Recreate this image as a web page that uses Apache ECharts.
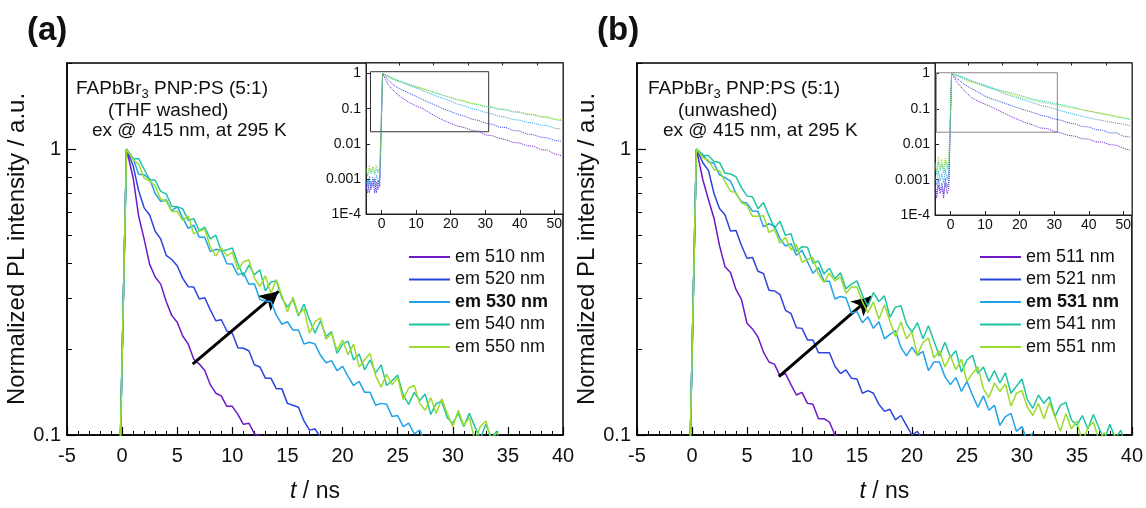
<!DOCTYPE html>
<html>
<head>
<meta charset="utf-8">
<script src="https://cdn.jsdelivr.net/npm/echarts@6/dist/echarts.min.js"></script>
<style>
  html, body { margin: 0; padding: 0; background: #fff; }
  #chart { width: 1146px; height: 508px; }
</style>
</head>
<body>
<div id="chart"></div>
<script>
// time grid of the main plots (ns)
var tMain = [-0.2, 0.4, 1, 1.5, 2, 2.5, 3, 3.5, 4, 4.5, 5, 5.5, 6, 6.5, 7, 7.5, 8, 8.5, 9, 9.5,
  10, 10.5, 11, 11.5, 12, 12.5, 13, 13.5, 14, 14.5, 15, 15.5, 16, 16.5, 17, 17.5, 18, 18.5, 19, 19.5,
  20, 20.5, 21, 21.5, 22, 22.5, 23, 23.5, 24, 24.5, 25, 25.5, 26, 26.5, 27, 27.5, 28, 28.5, 29, 29.5,
  30, 30.5, 31, 31.5, 32, 32.5, 33, 33.5, 34, 34.5, 35, 35.5, 36, 36.5, 37, 37.5, 38, 38.5, 39, 39.5, 40];

// time grid of the insets (ns)
var tInset = [-4.5, -4, -3.5, -3, -2.5, -2, -1.5, -1, -0.5, 0.3, 2, 4, 6, 8, 10, 12, 14, 16, 18, 20,
  22, 24, 26, 28, 30, 32, 34, 36, 38, 40, 42, 44, 46, 48, 50, 52];

// (a) THF washed, main plot
var a510 = [0.08, 1.0, 0.794, 0.583, 0.484, 0.395, 0.357, 0.337, 0.293, 0.262, 0.248, 0.222, 0.208, 0.184, 0.177, 0.168, 0.15, 0.14, 0.137, 0.126,
  0.126, 0.118, 0.109, 0.11, 0.101, 0.099, 0.091];
var a520 = [0.08, 1.0, 0.875, 0.715, 0.623, 0.588, 0.516, 0.485, 0.425, 0.411, 0.391, 0.353, 0.33, 0.329, 0.299, 0.302, 0.274, 0.251, 0.253, 0.231,
  0.227, 0.202, 0.201, 0.197, 0.176, 0.173, 0.158, 0.158, 0.145, 0.145, 0.129, 0.127, 0.125, 0.112, 0.104, 0.105, 0.098, 0.098];
var a530 = [0.08, 1.0, 0.929, 0.816, 0.813, 0.785, 0.699, 0.656, 0.664, 0.608, 0.629, 0.575, 0.528, 0.542, 0.492, 0.492, 0.438, 0.446, 0.442, 0.397,
  0.396, 0.363, 0.369, 0.337, 0.338, 0.298, 0.294, 0.293, 0.262, 0.244, 0.249, 0.233, 0.233, 0.208, 0.211, 0.208, 0.19, 0.179, 0.182, 0.168,
  0.174, 0.16, 0.149, 0.154, 0.141, 0.141, 0.127, 0.129, 0.128, 0.116, 0.117, 0.107, 0.11, 0.101, 0.104, 0.094];
var a540 = [0.08, 1.0, 0.923, 0.927, 0.85, 0.781, 0.778, 0.711, 0.697, 0.631, 0.629, 0.618, 0.563, 0.571, 0.518, 0.533, 0.485, 0.5, 0.44, 0.444,
  0.451, 0.398, 0.359, 0.393, 0.364, 0.378, 0.319, 0.343, 0.346, 0.301, 0.28, 0.298, 0.261, 0.287, 0.253, 0.227, 0.251, 0.221, 0.23, 0.193,
  0.208, 0.213, 0.183, 0.192, 0.169, 0.183, 0.165, 0.176, 0.149, 0.155, 0.162, 0.138, 0.128, 0.141, 0.132, 0.139, 0.118, 0.129, 0.131, 0.115,
  0.11, 0.119, 0.107, 0.119, 0.107, 0.097, 0.109, 0.098, 0.103, 0.088];
var a550 = [0.08, 1.0, 0.919, 0.886, 0.79, 0.775, 0.742, 0.668, 0.658, 0.605, 0.606, 0.563, 0.583, 0.505, 0.516, 0.525, 0.455, 0.423, 0.451, 0.423,
  0.435, 0.379, 0.403, 0.41, 0.354, 0.331, 0.36, 0.313, 0.35, 0.306, 0.27, 0.303, 0.264, 0.276, 0.227, 0.249, 0.257, 0.216, 0.227, 0.198,
  0.215, 0.191, 0.208, 0.173, 0.183, 0.193, 0.161, 0.147, 0.163, 0.15, 0.159, 0.133, 0.146, 0.149, 0.129, 0.122, 0.135, 0.119, 0.134, 0.119,
  0.107, 0.122, 0.108, 0.115, 0.096, 0.107, 0.112, 0.096, 0.102];

// (b) unwashed, main plot
var b511 = [0.08, 1.0, 0.778, 0.665, 0.573, 0.46, 0.388, 0.37, 0.323, 0.298, 0.246, 0.235, 0.22, 0.195, 0.18, 0.177, 0.161, 0.164, 0.15, 0.138,
  0.141, 0.129, 0.128, 0.114, 0.114, 0.111, 0.1, 0.098];
var b521 = [0.08, 1.0, 0.894, 0.842, 0.699, 0.62, 0.589, 0.517, 0.519, 0.46, 0.415, 0.418, 0.374, 0.367, 0.321, 0.319, 0.31, 0.273, 0.266, 0.237,
  0.236, 0.215, 0.215, 0.194, 0.194, 0.194, 0.174, 0.164, 0.169, 0.158, 0.157, 0.14, 0.143, 0.14, 0.128, 0.121, 0.123, 0.113, 0.117, 0.108,
  0.1, 0.103, 0.095];
var b531 = [0.08, 1.0, 0.954, 0.901, 0.892, 0.813, 0.794, 0.773, 0.699, 0.655, 0.646, 0.607, 0.606, 0.535, 0.548, 0.538, 0.486, 0.458, 0.467, 0.425,
  0.443, 0.403, 0.368, 0.385, 0.345, 0.345, 0.299, 0.305, 0.302, 0.267, 0.27, 0.247, 0.259, 0.236, 0.249, 0.217, 0.225, 0.232, 0.202, 0.189,
  0.203, 0.19, 0.196, 0.168, 0.18, 0.18, 0.16, 0.15, 0.159, 0.142, 0.154, 0.138, 0.125, 0.137, 0.122, 0.127, 0.108, 0.116, 0.119, 0.103,
  0.107, 0.095, 0.102];
var b541 = [0.08, 1.0, 0.951, 0.949, 0.905, 0.898, 0.824, 0.818, 0.8, 0.733, 0.686, 0.68, 0.619, 0.65, 0.585, 0.529, 0.559, 0.499, 0.506, 0.439,
  0.455, 0.454, 0.399, 0.406, 0.366, 0.383, 0.352, 0.369, 0.325, 0.337, 0.346, 0.308, 0.282, 0.315, 0.293, 0.307, 0.258, 0.28, 0.283, 0.245,
  0.229, 0.247, 0.217, 0.241, 0.213, 0.189, 0.211, 0.187, 0.197, 0.166, 0.183, 0.19, 0.164, 0.173, 0.154, 0.168, 0.152, 0.165, 0.14, 0.148,
  0.157, 0.133, 0.124, 0.138, 0.129, 0.136, 0.116, 0.127, 0.13, 0.113, 0.108, 0.117, 0.105, 0.118, 0.106, 0.096, 0.109, 0.097, 0.104, 0.088];
var b551 = [0.08, 1.0, 0.931, 0.914, 0.847, 0.839, 0.77, 0.712, 0.704, 0.649, 0.635, 0.582, 0.582, 0.585, 0.511, 0.523, 0.469, 0.491, 0.444, 0.464,
  0.402, 0.411, 0.418, 0.365, 0.342, 0.368, 0.346, 0.357, 0.313, 0.329, 0.329, 0.292, 0.268, 0.292, 0.254, 0.285, 0.25, 0.221, 0.249, 0.217,
  0.229, 0.19, 0.211, 0.218, 0.186, 0.197, 0.173, 0.189, 0.169, 0.184, 0.154, 0.164, 0.173, 0.145, 0.135, 0.152, 0.142, 0.151, 0.126, 0.14,
  0.143, 0.125, 0.117, 0.129, 0.114, 0.13, 0.116, 0.103, 0.119, 0.105, 0.112, 0.094, 0.106, 0.111, 0.096, 0.102, 0.091, 0.101];

// insets, full decay on log scale
var insA510 = [0.0007, 0.0004, 0.0009, 0.0005, 0.0011, 0.0004, 0.0008, 0.0005, 0.001, 1.0, 0.47, 0.29, 0.2, 0.15, 0.12, 0.1, 0.075, 0.058,
  0.046, 0.038, 0.032, 0.029, 0.024, 0.023, 0.018, 0.017, 0.0145, 0.013, 0.011, 0.0105, 0.0088, 0.0085, 0.0068, 0.0066, 0.0052, 0.0046];
var insA520 = [0.0005, 0.0009, 0.0004, 0.0008, 0.0006, 0.001, 0.0004, 0.0009, 0.0006, 1.0, 0.65, 0.43, 0.34, 0.275, 0.222, 0.18, 0.147, 0.12,
  0.098, 0.083, 0.069, 0.061, 0.051, 0.046, 0.039, 0.036, 0.03, 0.029, 0.024, 0.023, 0.019, 0.018, 0.0155, 0.0148, 0.0125, 0.0118];
var insA530 = [0.0009, 0.0006, 0.0012, 0.0007, 0.001, 0.0006, 0.0013, 0.0008, 0.0011, 1.0, 0.8, 0.648, 0.55, 0.46, 0.39, 0.325, 0.268, 0.226,
  0.193, 0.166, 0.135, 0.12, 0.101, 0.091, 0.078, 0.071, 0.061, 0.057, 0.049, 0.047, 0.041, 0.039, 0.034, 0.033, 0.028, 0.026];
var insA540 = [0.0016, 0.0012, 0.002, 0.0014, 0.0022, 0.0013, 0.0019, 0.0015, 0.0021, 1.0, 0.85, 0.685, 0.58, 0.495, 0.425, 0.37, 0.322, 0.273,
  0.237, 0.205, 0.178, 0.16, 0.139, 0.13, 0.114, 0.108, 0.096, 0.092, 0.081, 0.078, 0.069, 0.066, 0.058, 0.056, 0.049, 0.046];
var insA550 = [0.0019, 0.0014, 0.0024, 0.0016, 0.0021, 0.0015, 0.0025, 0.0017, 0.002, 1.0, 0.82, 0.65, 0.55, 0.472, 0.415, 0.366, 0.318, 0.275,
  0.24, 0.21, 0.182, 0.165, 0.142, 0.134, 0.117, 0.112, 0.099, 0.096, 0.084, 0.082, 0.071, 0.069, 0.061, 0.059, 0.051, 0.049];

var insB511 = [0.0005, 0.0003, 0.0007, 0.0004, 0.0006, 0.0003, 0.0008, 0.0004, 0.0006, 1.0, 0.55, 0.325, 0.213, 0.164, 0.137, 0.113, 0.09, 0.072,
  0.058, 0.048, 0.04, 0.035, 0.029, 0.028, 0.023, 0.021, 0.018, 0.017, 0.0145, 0.014, 0.0118, 0.0115, 0.0098, 0.0094, 0.0078, 0.0068];
var insB521 = [0.0007, 0.0004, 0.001, 0.0005, 0.0008, 0.0004, 0.0011, 0.0006, 0.0009, 1.0, 0.71, 0.495, 0.38, 0.298, 0.23, 0.192, 0.166, 0.141,
  0.12, 0.104, 0.09, 0.079, 0.067, 0.061, 0.052, 0.048, 0.041, 0.038, 0.032, 0.031, 0.026, 0.025, 0.021, 0.021, 0.017, 0.016];
var insB531 = [0.0012, 0.0007, 0.0018, 0.0009, 0.0015, 0.0008, 0.002, 0.001, 0.0016, 1.0, 0.88, 0.715, 0.605, 0.535, 0.468, 0.4, 0.32, 0.262,
  0.226, 0.197, 0.171, 0.148, 0.127, 0.114, 0.103, 0.088, 0.079, 0.07, 0.062, 0.056, 0.051, 0.047, 0.043, 0.04, 0.037, 0.034];
var insB541 = [0.0025, 0.0014, 0.0032, 0.0018, 0.0028, 0.0015, 0.0035, 0.002, 0.003, 1.0, 0.91, 0.78, 0.64, 0.535, 0.45, 0.383, 0.34, 0.312,
  0.28, 0.245, 0.213, 0.188, 0.172, 0.157, 0.143, 0.131, 0.12, 0.11, 0.095, 0.087, 0.079, 0.072, 0.066, 0.06, 0.055, 0.05];
var insB551 = [0.003, 0.0018, 0.0045, 0.0022, 0.0038, 0.002, 0.0042, 0.0025, 0.0035, 1.0, 0.86, 0.69, 0.575, 0.493, 0.422, 0.368, 0.333, 0.288,
  0.25, 0.218, 0.196, 0.175, 0.157, 0.144, 0.132, 0.12, 0.111, 0.103, 0.096, 0.088, 0.081, 0.074, 0.068, 0.062, 0.057, 0.053];

// legend names + colours
var namesA = ['em 510 nm', 'em 520 nm', 'em 530 nm', 'em 540 nm', 'em 550 nm'];
var namesB = ['em 511 nm', 'em 521 nm', 'em 531 nm', 'em 541 nm', 'em 551 nm'];
var colors = ['#6e18c8', '#2b45dc', '#20a3e8', '#1fc4a2', '#9bdc2c'];

// tick positions
var insetXTicks = [0, 10, 20, 30, 40, 50];
var insetXMinor = [5, 15, 25, 35, 45];
var mainYMinor = [0.2, 0.3, 0.4, 0.5, 0.6, 0.7, 0.8, 0.9, 2];

var FONT = '"Liberation Sans", Arial, sans-serif';

function pairs(ts, vs) {
    return vs.map(function (v, i) { return [ts[i], v]; });
}

var chart = echarts.init(document.getElementById('chart'), null, { renderer: 'canvas' });

// main axes of one panel
function mainX(grid) {
    return {
        type: 'value', gridIndex: grid, min: -5, max: 40, interval: 5,
        axisLine: { onZero: false, lineStyle: { color: '#000', width: 1.5 } },
        axisTick: { inside: true, length: 8, lineStyle: { color: '#000', width: 1.2 } },
        minorTick: { show: true, splitNumber: 5, length: 4, lineStyle: { color: '#000', width: 1 } },
        axisLabel: { fontSize: 20, color: '#111', fontFamily: FONT, margin: 11 },
        splitLine: { show: false },
        name: '{i|t} / ns', nameLocation: 'middle', nameGap: 45,
        nameTextStyle: { fontSize: 23, color: '#111', fontFamily: FONT, rich: { i: { fontStyle: 'italic', fontSize: 23, fontFamily: FONT } } }
    };
}
function mainY(grid) {
    return {
        type: 'log', logBase: 10, gridIndex: grid, min: 0.1, max: 2, position: 'left',
        axisLine: { onZero: false, lineStyle: { color: '#000', width: 1.5 } },
        axisTick: { inside: true, length: 9, lineStyle: { color: '#000', width: 1.2 } },
        axisLabel: { fontSize: 20, color: '#111', fontFamily: FONT, margin: 6, showMaxLabel: false },
        splitLine: { show: false },
        name: 'Normalized PL intensity / a.u.', nameLocation: 'middle', nameGap: 31,
        nameTextStyle: { fontSize: 24, color: '#111', fontFamily: FONT }
    };
}
// minor log ticks (0.2 .. 0.9, 2) drawn on a linear axis of log10 values
function mainYMinorAxis(grid) {
    return {
        type: 'value', gridIndex: grid, min: -1, max: Math.log10(2), position: 'left',
        axisLine: { show: false, onZero: false },
        axisLabel: { show: false },
        splitLine: { show: false },
        axisTick: { inside: true, length: 5, customValues: mainYMinor.map(Math.log10), lineStyle: { color: '#000', width: 1 } }
    };
}
function insetX(grid) {
    return {
        type: 'value', gridIndex: grid, min: -4.5, max: 52.5,
        axisLine: { onZero: false, lineStyle: { color: '#222', width: 1 } },
        axisTick: { inside: true, length: 4, customValues: insetXTicks, lineStyle: { color: '#222' } },
        axisLabel: { fontSize: 14, color: '#111', fontFamily: FONT, margin: 3, customValues: insetXTicks },
        splitLine: { show: false }
    };
}
function insetXMinorAxis(grid) {
    return {
        type: 'value', gridIndex: grid, min: -4.5, max: 52.5,
        axisLine: { show: false, onZero: false }, axisLabel: { show: false }, splitLine: { show: false },
        axisTick: { inside: true, length: 2.5, customValues: insetXMinor, lineStyle: { color: '#222' } }
    };
}
function insetY(grid) {
    return {
        type: 'log', logBase: 10, gridIndex: grid, min: 0.0001, max: 2,
        axisLine: { onZero: false, lineStyle: { color: '#222', width: 1 } },
        axisTick: { inside: true, length: 4, lineStyle: { color: '#222' } },
        axisLabel: {
            fontSize: 14, color: '#111', fontFamily: FONT, margin: 5, showMaxLabel: false,
            formatter: function (v) { return v < 0.0002 ? '1E-4' : String(v); }
        },
        splitLine: { show: false }
    };
}

function mainSeries(names, arrays, xi, yi) {
    return arrays.map(function (arr, i) {
        return {
            name: names[i], type: 'line', xAxisIndex: xi, yAxisIndex: yi,
            data: pairs(tMain, arr), showSymbol: false, color: colors[i],
            lineStyle: { width: 1.5, color: colors[i] }, z: 3 + i
        };
    });
}
function insetSeries(tag, arrays, xi, yi) {
    return arrays.map(function (arr, i) {
        return {
            name: tag + i, type: 'line', xAxisIndex: xi, yAxisIndex: yi,
            data: pairs(tInset, arr), showSymbol: false, color: colors[i],
            lineStyle: { width: 1, color: colors[i], type: 'dotted' }, z: 3 + i
        };
    });
}

function legendFor(names, left) {
    return {
        orient: 'vertical', left: left, top: 246, padding: 0, icon: 'rect', itemWidth: 41, itemHeight: 2, itemGap: 0.5,
        selectedMode: false,
        textStyle: { fontSize: 18, color: '#111', fontFamily: FONT, lineHeight: 22 },
        data: names.map(function (n, i) {
            return i === 2 ? { name: n, textStyle: { fontWeight: 'bold' } } : { name: n };
        })
    };
}

var arrowStyle = {
    silent: true, symbol: ['none', 'arrow'], symbolSize: [15, 19],
    lineStyle: { color: '#000', width: 3, type: 'solid' },
    label: { show: false }
};

var series = [];
series = series.concat(mainSeries(namesA, [a510, a520, a530, a540, a550], 0, 0));
series = series.concat(insetSeries('insA', [insA510, insA520, insA530, insA540, insA550], 1, 2));
series = series.concat(mainSeries(namesB, [b511, b521, b531, b541, b551], 3, 3));
series = series.concat(insetSeries('insB', [insB511, insB521, insB531, insB541, insB551], 4, 5));

// arrows
series.push({
    name: 'arrowA', type: 'line', xAxisIndex: 0, yAxisIndex: 0, data: [], z: 20,
    markLine: Object.assign({ data: [[{ coord: [6.4, 0.177] }, { coord: [14.2, 0.318] }]] }, arrowStyle)
});
series.push({
    name: 'arrowB', type: 'line', xAxisIndex: 3, yAxisIndex: 3, data: [], z: 20,
    markLine: Object.assign({ data: [[{ coord: [7.9, 0.16] }, { coord: [16.3, 0.305] }]] }, arrowStyle)
});
// zoom boxes inside the insets
series.push({
    name: 'boxA', type: 'line', xAxisIndex: 1, yAxisIndex: 2, data: [], z: 2,
    markArea: { silent: true, itemStyle: { color: 'rgba(0,0,0,0)', borderColor: '#333', borderWidth: 1 },
        data: [[{ coord: [-3.2, 1.13] }, { coord: [31, 0.022] }]] }
});
series.push({
    name: 'boxB', type: 'line', xAxisIndex: 4, yAxisIndex: 5, data: [], z: 2,
    markArea: { silent: true, itemStyle: { color: 'rgba(0,0,0,0)', borderColor: '#888', borderWidth: 1 },
        data: [[{ coord: [-4.1, 1.06] }, { coord: [30.9, 0.022] }]] }
});

function txt(x, y, text, size, weight, rich) {
    return {
        type: 'text', x: x, y: y, z: 50,
        style: { text: text, fill: '#111', fontSize: size, fontFamily: FONT, fontWeight: weight || 'normal',
            verticalAlign: 'middle', rich: rich }
    };
}
var sub = {
    n: { fontSize: 19, fontFamily: FONT, fill: '#111' },
    s: { fontSize: 13, fontFamily: FONT, fill: '#111', padding: [10, 0, 0, 0] }
};

var option = {
    animation: false,
    backgroundColor: '#fff',
    grid: [
        { left: 67, top: 63, width: 496, height: 378, show: true, borderColor: '#000', borderWidth: 1.5 },
        { left: 366, top: 63, width: 197, height: 151, show: true, backgroundColor: '#fff', borderColor: '#222', borderWidth: 1 },
        { left: 637, top: 63, width: 495, height: 378, show: true, borderColor: '#000', borderWidth: 1.5 },
        { left: 935, top: 63, width: 197, height: 152, show: true, backgroundColor: '#fff', borderColor: '#222', borderWidth: 1 }
    ],
    xAxis: [mainX(0), insetX(1), insetXMinorAxis(1), mainX(2), insetX(3), insetXMinorAxis(3)],
    yAxis: [mainY(0), mainYMinorAxis(0), insetY(1), mainY(2), mainYMinorAxis(2), insetY(3)],
    legend: [legendFor(namesA, 409), legendFor(namesB, 980)],
    graphic: [
        txt(27, 31, '(a)', 33, 'bold'),
        txt(597, 31, '(b)', 33, 'bold'),
        txt(76, 89, '{n|FAPbBr}{s|3}{n| PNP:PS (5:1)}', 19, 'normal', sub),
        txt(108, 111, '(THF washed)', 19),
        txt(92, 131, 'ex @ 415 nm, at 295 K', 19),
        txt(648, 89, '{n|FAPbBr}{s|3}{n| PNP:PS (5:1)}', 19, 'normal', sub),
        txt(678, 111, '(unwashed)', 19),
        txt(663, 131, 'ex @ 415 nm, at 295 K', 19)
    ],
    series: series
};

chart.setOption(option);
</script>
</body>
</html>
